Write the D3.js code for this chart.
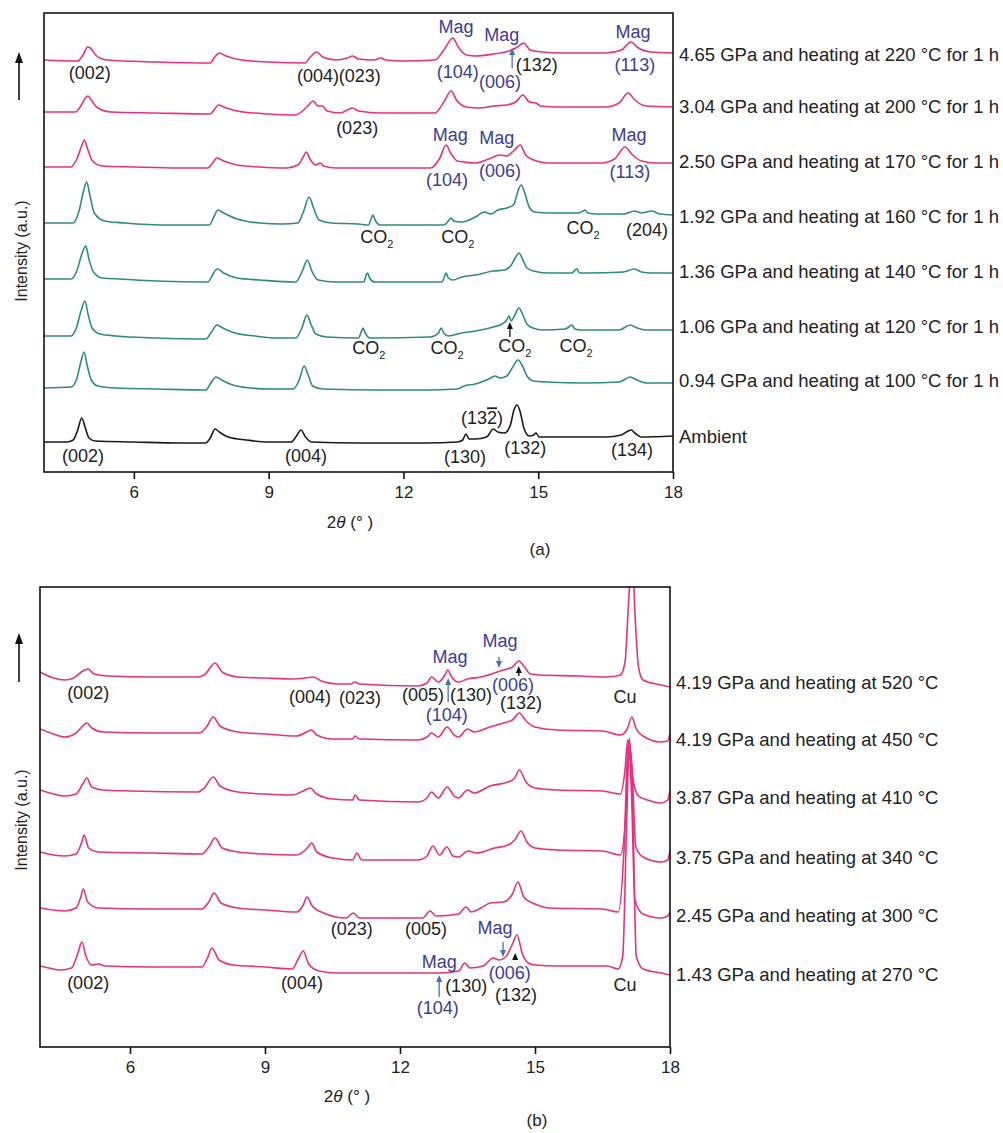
<!DOCTYPE html>
<html>
<head>
<meta charset="utf-8">
<script src="https://cdn.jsdelivr.net/npm/d3@7"></script>
<style>
  html, body { margin: 0; padding: 0; background: #fff; }
  svg text { font-family: "Liberation Sans", Arial, sans-serif; }
</style>
</head>
<body>
<svg id="chart" width="1003" height="1133"></svg>
<script>
// ---------------- DATA ----------------
const xTicks = [6, 9, 12, 15, 18];

// Panel (a): sample labels (top to bottom) and stacking offsets (a.u.)
const labelsA = [
  "4.65 GPa and heating at 220 °C for 1 h",
  "3.04 GPa and heating at 200 °C for 1 h",
  "2.50 GPa and heating at 170 °C for 1 h",
  "1.92 GPa and heating at 160 °C for 1 h",
  "1.36 GPa and heating at 140 °C for 1 h",
  "1.06 GPa and heating at 120 °C for 1 h",
  "0.94 GPa and heating at 100 °C for 1 h",
  "Ambient"
];
const offsetsA = [412, 360, 305, 249, 193, 136, 84, 30];
const labelYA = [417, 365, 310, 255, 200, 145, 91, 35];
const seriesGroupA = ["pink", "pink", "pink", "green", "green", "green", "green", "black"];

const a465 = [[4.0,0],[4.75,-1],[4.88,6],[4.97,13],[5.03,12],[5.15,5],[5.4,0],[6.5,-2],[7.7,-3],[7.8,3],[7.9,7],[8.05,4],[8.4,0],[9.0,-2],[9.8,-3],[9.95,4],[10.07,8],[10.2,3],[10.5,0],[10.75,2],[10.87,4],[11.0,1],[11.35,0],[11.5,2],[11.6,0],[12.0,-1],[12.7,0],[12.9,10],[13.1,22],[13.22,13],[13.4,5],[13.6,4],[14.0,6],[14.35,9],[14.5,12],[14.68,17],[14.82,10],[15.1,8],[15.5,7],[16.5,7],[16.85,10],[17.07,18],[17.2,13],[17.5,8],[18.0,7]];
const a304 = [[4.0,0],[4.7,0],[4.82,6],[4.92,14],[4.98,16],[5.05,12],[5.2,4],[5.5,0],[6.5,-1],[7.7,-2],[7.8,3],[7.88,7],[8.0,5],[8.3,1],[9.0,-2],[9.6,-3],[9.85,5],[9.99,11],[10.1,6],[10.2,6],[10.3,1],[10.6,-1],[10.75,2],[10.87,4],[11.0,1],[11.5,-1],[12.7,-1],[12.9,10],[13.06,21],[13.18,12],[13.4,5],[13.7,4],[14.0,6],[14.3,7],[14.5,10],[14.66,17],[14.8,10],[14.95,9],[15.05,6],[15.4,5],[16.5,5],[16.8,9],[17.0,19],[17.15,12],[17.4,6],[18.0,5]];
const a250 = [[4.0,0],[4.6,0],[4.73,8],[4.83,20],[4.9,27],[4.97,18],[5.08,6],[5.3,1],[6.0,0],[7.0,-1],[7.65,-1],[7.75,4],[7.85,9],[8.0,6],[8.3,2],[8.8,0],[9.4,-1],[9.65,2],[9.77,10],[9.84,15],[9.92,8],[10.05,2],[10.15,4],[10.22,1],[10.5,-1],[11.5,-1],[12.6,-1],[12.8,8],[12.95,22],[13.05,14],[13.2,6],[13.35,5],[13.6,4],[13.9,8],[14.15,12],[14.3,11],[14.45,16],[14.6,22],[14.72,12],[14.9,7],[15.2,4],[16.4,4],[16.7,8],[16.93,20],[17.1,12],[17.3,6],[17.6,4],[18.0,4]];
const a192 = [[4.0,0],[4.65,0],[4.78,12],[4.88,32],[4.95,41],[5.02,28],[5.12,10],[5.35,2],[5.8,0],[6.8,-2],[7.68,-2],[7.78,6],[7.87,13],[8.0,10],[8.3,4],[8.8,0],[9.3,-1],[9.65,0],[9.78,12],[9.9,26],[10.0,15],[10.12,3],[10.4,0],[11.0,-1],[11.22,-2],[11.28,4],[11.32,8],[11.37,3],[11.48,-2],[12.9,-2],[13.0,2],[13.06,5],[13.12,2],[13.3,1],[13.6,6],[13.8,11],[13.95,9],[14.1,13],[14.3,15],[14.45,18],[14.55,32],[14.62,38],[14.7,30],[14.8,16],[14.92,11],[15.2,10],[15.9,10],[16.0,12],[16.04,13],[16.1,10],[16.3,9],[16.9,9],[17.15,12],[17.3,10],[17.53,12],[17.7,9],[18.0,8]];
const a136 = [[4.0,0],[4.6,0],[4.73,8],[4.85,26],[4.93,33],[5.0,20],[5.1,7],[5.3,1],[5.7,0],[6.5,-2],[7.65,-3],[7.75,4],[7.85,10],[8.0,6],[8.3,1],[8.8,-1],[9.6,-3],[9.75,8],[9.86,19],[9.96,8],[10.1,-1],[10.5,-3],[11.12,-3],[11.17,4],[11.2,6],[11.25,1],[11.35,-3],[12.85,-3],[12.92,3],[12.95,6],[13.0,1],[13.1,-1],[13.3,2],[13.6,4],[14.0,8],[14.25,9],[14.4,14],[14.5,22],[14.57,26],[14.65,20],[14.75,11],[14.9,8],[15.2,6],[15.75,6],[15.82,9],[15.86,10],[15.92,6],[16.1,6],[16.9,7],[17.13,10],[17.3,7],[17.5,6],[18.0,6]];
const a106 = [[4.0,0],[4.6,0],[4.72,8],[4.83,26],[4.91,35],[4.98,22],[5.07,8],[5.25,2],[5.6,0],[6.5,-2],[7.6,-3],[7.73,4],[7.85,11],[7.98,8],[8.25,3],[8.7,0],[9.2,-2],[9.6,-2],[9.74,8],[9.85,21],[9.94,12],[10.05,2],[10.3,-1],[11.0,-2],[11.06,4],[11.1,8],[11.15,3],[11.25,-2],[12.6,-1],[12.78,3],[12.84,8],[12.9,3],[13.0,0],[13.3,3],[13.6,5],[14.0,9],[14.2,12],[14.3,16],[14.35,20],[14.4,15],[14.47,20],[14.57,28],[14.65,22],[14.75,12],[14.88,8],[15.1,6],[15.6,7],[15.68,9],[15.75,11],[15.82,7],[15.95,6],[16.8,6],[17.05,11],[17.2,8],[17.4,6],[18.0,6]];
const a094 = [[4.0,0],[4.6,1],[4.72,8],[4.82,26],[4.89,36],[4.96,23],[5.05,8],[5.2,2],[5.6,0],[6.5,-1],[7.6,-2],[7.7,4],[7.83,11],[7.95,8],[8.2,3],[8.6,0],[9.0,-1],[9.55,-1],[9.68,8],[9.79,22],[9.88,13],[9.98,2],[10.2,-1],[11.5,-2],[12.5,-2],[13.2,-1],[13.35,2],[13.6,4],[13.9,9],[14.04,12],[14.15,10],[14.3,12],[14.42,20],[14.55,28],[14.65,22],[14.75,12],[14.9,7],[15.2,6],[16.0,5],[16.8,6],[17.05,11],[17.2,8],[17.4,5],[18.0,5]];
const aAmb = [[4.0,0],[4.5,0],[4.65,2],[4.75,12],[4.84,24],[4.92,14],[5.0,4],[5.15,1],[6.0,0],[7.0,-1],[7.6,-1],[7.7,4],[7.81,13],[7.9,10],[8.1,5],[8.5,2],[9.0,0],[9.5,0],[9.62,6],[9.72,12],[9.82,5],[9.95,0],[11.0,-1],[12.5,-1],[13.2,0],[13.32,2],[13.39,8],[13.46,3],[13.6,3],[13.85,5],[14.0,13],[14.1,10],[14.25,9],[14.38,17],[14.46,32],[14.53,37],[14.6,30],[14.68,14],[14.8,6],[14.9,7],[14.95,9],[15.02,5],[15.5,5],[16.5,5],[16.85,7],[17.0,11],[17.07,12],[17.15,9],[17.3,5],[18.0,6]];
const tracesA = [a465, a304, a250, a192, a136, a106, a094, aAmb];

// Panel (b)
const labelsB = [
  "4.19 GPa and heating at 520 °C",
  "4.19 GPa and heating at 450 °C",
  "3.87 GPa and heating at 410 °C",
  "3.75 GPa and heating at 340 °C",
  "2.45 GPa and heating at 300 °C",
  "1.43 GPa and heating at 270 °C"
];
const offsetsB = [375, 318, 257, 195, 139, 81];
const labelYB = [364, 307, 249, 189, 131, 72];

const b520 = [[4.0,0],[4.3,-6],[4.55,-8],[4.75,-6],[4.95,1],[5.07,3],[5.2,-2],[5.5,-4],[6.5,-5],[7.5,-5],[7.65,-3],[7.89,9],[8.05,0],[8.4,-5],[9.0,-6],[9.6,-7],[9.9,-6],[10.07,-5],[10.25,-9],[10.6,-12],[10.9,-12],[11.0,-10],[11.1,-12],[12.4,-14],[12.6,-11],[12.7,-5],[12.85,-10],[13.0,-3],[13.06,2],[13.15,-5],[13.3,-10],[13.5,-7],[13.8,-5],[14.3,2],[14.5,5],[14.64,11],[14.75,6],[14.9,-2],[15.1,-3],[16.0,-4],[16.6,-5],[16.9,-3],[17.0,10],[17.08,70],[17.16,120],[17.22,60],[17.3,5],[17.4,-8],[17.8,-13],[18.0,-15]];
const b450 = [[4.0,0],[4.3,-5],[4.55,-8],[4.8,-4],[4.95,3],[5.04,6],[5.15,1],[5.4,-3],[6.5,-4],[7.55,-4],[7.7,2],[7.85,12],[8.0,3],[8.4,-3],[9.0,-5],[9.7,-7],[9.93,-3],[10.03,-1],[10.15,-6],[10.5,-10],[10.95,-10],[11.0,-7],[11.1,-10],[12.4,-11],[12.6,-8],[12.7,-4],[12.85,-8],[13.05,2],[13.2,-6],[13.3,-8],[13.5,0],[13.65,-3],[14.0,2],[14.3,6],[14.5,9],[14.65,16],[14.8,8],[15.0,2],[15.5,-1],[16.5,-2],[16.9,-6],[17.05,0],[17.15,12],[17.25,0],[17.4,-7],[17.8,-13],[17.95,-12],[18.0,-4]];
const b410 = [[4.0,0],[4.3,-4],[4.55,-6],[4.8,-4],[4.95,6],[5.04,12],[5.15,3],[5.4,0],[6.0,-1],[7.5,-2],[7.65,2],[7.85,13],[8.0,4],[8.4,-2],[9.0,-4],[9.6,-5],[9.85,-1],[10.0,2],[10.15,-4],[10.5,-9],[10.95,-10],[11.0,-5],[11.1,-10],[12.4,-12],[12.6,-8],[12.7,-2],[12.85,-8],[13.05,3],[13.2,-6],[13.3,-8],[13.5,0],[13.65,-3],[14.0,4],[14.4,8],[14.55,12],[14.65,20],[14.8,8],[15.0,2],[15.5,0],[16.5,-1],[16.9,-4],[17.0,20],[17.06,50],[17.12,40],[17.18,10],[17.3,-6],[17.5,-10],[17.8,-13],[17.95,-10],[18.0,0]];
const b340 = [[4.0,0],[4.3,-3],[4.55,-4],[4.8,-2],[4.93,10],[4.98,17],[5.08,4],[5.3,0],[6.5,-1],[7.6,-2],[7.75,5],[7.89,14],[8.05,4],[8.4,0],[9.0,-2],[9.7,-3],[9.92,3],[10.04,9],[10.15,0],[10.5,-6],[10.95,-8],[11.04,-1],[11.15,-8],[12.4,-8],[12.6,-4],[12.73,6],[12.88,-3],[13.04,5],[13.18,-4],[13.3,-5],[13.51,1],[13.7,-1],[14.1,4],[14.4,7],[14.55,12],[14.69,21],[14.82,10],[15.0,4],[15.5,2],[16.5,1],[16.9,-3],[17.02,40],[17.09,110],[17.16,80],[17.24,5],[17.4,-5],[17.8,-10],[17.95,-8],[18.0,2]];
const b300 = [[4.0,0],[4.3,-2],[4.55,-3],[4.8,0],[4.9,10],[4.96,19],[5.06,6],[5.3,0],[6.5,-1],[7.6,-1],[7.75,6],[7.87,15],[8.02,5],[8.4,0],[9.0,-2],[9.7,-4],[9.85,3],[9.93,11],[10.05,2],[10.3,-5],[10.8,-10],[10.96,-5],[11.1,-10],[12.5,-10],[12.67,-3],[12.8,-8],[13.3,-6],[13.47,1],[13.58,-4],[13.8,0],[14.0,5],[14.3,6],[14.5,14],[14.62,26],[14.75,11],[14.9,6],[15.0,4],[15.3,0],[16.5,-1],[16.85,-4],[16.98,60],[17.07,165],[17.14,120],[17.22,8],[17.4,-6],[17.8,-10],[17.95,-8],[18.0,-4]];
const b270 = [[4.0,0],[4.2,-2],[4.45,-4],[4.7,-2],[4.85,14],[4.93,24],[5.02,10],[5.15,1],[5.3,2],[5.45,0],[6.5,-1],[7.6,-1],[7.72,8],[7.82,18],[7.98,6],[8.3,1],[9.0,-1],[9.6,-3],[9.75,8],[9.85,15],[9.97,2],[10.2,-5],[10.6,-7],[12.9,-7],[13.3,-5],[13.44,3],[13.55,-2],[13.85,0],[14.07,8],[14.2,6],[14.35,9],[14.48,20],[14.6,31],[14.72,12],[14.85,3],[15.0,1],[15.5,0],[16.6,0],[16.85,-3],[16.95,10],[17.04,150],[17.1,228],[17.17,160],[17.25,10],[17.4,-3],[17.8,-7],[18.0,-9]];
const tracesB = [b520, b450, b410, b340, b300, b270];

// Peak annotations: text, 2theta, intensity (a.u.), kind
const annA = [
  ["(002)", 5.02, 399, "k"], ["(004)", 10.1, 396, "k"], ["(023)", 11.03, 396, "k"],
  ["Mag", 13.17, 445, "b"], ["(104)", 13.21, 400, "b"], ["Mag", 14.19, 437, "b"],
  ["(006)", 14.15, 390, "b"], ["(132)", 14.97, 407, "k"], ["Mag", 17.11, 440, "b"], ["(113)", 17.15, 407, "b"],
  ["(023)", 10.97, 344, "k"],
  ["Mag", 13.04, 337, "b"], ["(104)", 12.97, 292, "b"], ["Mag", 14.08, 334, "b"], ["(006)", 14.15, 301, "b"],
  ["Mag", 17.02, 337, "b"], ["(113)", 17.04, 300, "b"],
  ["CO2", 11.41, 235, "k"], ["CO2", 13.21, 235, "k"], ["CO2", 16.0, 244, "k"], ["(204)", 17.42, 242, "k"],
  ["CO2", 11.23, 124, "k"], ["CO2", 12.97, 124, "k"], ["CO2", 14.48, 126, "k"], ["CO2", 15.84, 126, "k"],
  ["(002)", 4.87, 16, "k"], ["(004)", 9.83, 16, "k"], ["(132bar)", 13.75, 54, "k"],
  ["(130)", 13.37, 15, "k"], ["(132)", 14.71, 24, "k"], ["(134)", 17.09, 22, "k"]
];
const arrowsA = [[14.42, 404, 424, "b"], [14.37, 135, 150, "k"]];

const annB = [
  ["(002)", 5.07, 354, "k"], ["(004)", 10.0, 350, "k"], ["(023)", 11.11, 349, "k"], ["(005)", 12.51, 352, "k"],
  ["(130)", 13.58, 352, "k"], ["(104)", 13.04, 332, "b"], ["Mag", 13.11, 390, "b"], ["Mag", 14.22, 406, "b"],
  ["(006)", 14.51, 362, "b"], ["(132)", 14.69, 344, "k"], ["Cu", 17.0, 350, "k"],
  ["(023)", 10.93, 118, "k"], ["(005)", 12.58, 118, "k"],
  ["(002)", 5.07, 64, "k"], ["(004)", 9.82, 64, "k"], ["Mag", 12.87, 85, "b"], ["(104)", 12.84, 39, "b"],
  ["(130)", 13.47, 61, "k"], ["Mag", 14.11, 119, "b"], ["(006)", 14.44, 74, "b"], ["(132)", 14.58, 52, "k"], ["Cu", 17.0, 62, "k"]
];
const arrowsB = [[13.07, 345, 369, "b"], [14.2, 390, 379, "b"], [14.64, 371, 381, "k"],
                 [12.87, 50, 72, "b"], [14.29, 105, 90, "b"], [14.56, 87, 94, "k"]];

// ---------------- DRAWING ----------------
const COLORS = { pink: "#e8307f", green: "#2e8c7c", black: "#1a1a1a" };
const TEXT_COLORS = { k: "#222", b: "#3b3c9c" };
const ARROW_COLORS = { k: "#111", b: "#4a6fb8" };

const svg = d3.select("#chart");
const defs = svg.append("defs");

function drawPanel(cfg) {
  const x = d3.scaleLinear().domain([4, 18]).range([cfg.left, cfg.right]);
  const y = d3.scaleLinear().domain([0, 460]).range([cfg.bottom, cfg.bottom - 460]);
  const g = svg.append("g");
  const clipId = "clip-" + cfg.id;
  defs.append("clipPath").attr("id", clipId).append("rect")
    .attr("x", cfg.left).attr("y", cfg.top).attr("width", cfg.right - cfg.left).attr("height", cfg.bottom - cfg.top);

  const line = d3.line().curve(d3.curveMonotoneX);
  const plot = g.append("g").attr("clip-path", `url(#${clipId})`);
  cfg.traces.forEach((tr, i) => {
    const off = cfg.offsets[i];
    plot.append("path")
      .attr("d", line(tr.map(p => [x(p[0]), y(off + p[1])])))
      .attr("fill", "none")
      .attr("stroke", COLORS[cfg.groups[i]])
      .attr("stroke-width", 1.6)
      .attr("stroke-linejoin", "round");
  });

  // frame
  g.append("rect").attr("x", cfg.left).attr("y", cfg.top)
    .attr("width", cfg.right - cfg.left).attr("height", cfg.bottom - cfg.top)
    .attr("fill", "none").attr("stroke", "#111").attr("stroke-width", 1.6);

  // x axis
  const ax = g.append("g").attr("transform", `translate(0,${cfg.bottom})`)
    .call(d3.axisBottom(x).tickValues(xTicks).tickSize(7).tickPadding(7).tickFormat(d3.format("d")));
  ax.select(".domain").remove();
  ax.selectAll("line").attr("stroke", "#111").attr("stroke-width", 1.6);
  ax.selectAll("text").attr("font-size", 17).attr("fill", "#222")
    .attr("font-family", "Liberation Sans, Arial, sans-serif");

  // x title
  const xt = g.append("text").attr("x", cfg.xTitleX).attr("y", cfg.xTitleY)
    .attr("text-anchor", "middle").attr("font-size", 17).attr("fill", "#222");
  xt.append("tspan").text("2");
  xt.append("tspan").attr("font-style", "italic").text("θ");
  xt.append("tspan").text(" (° )");

  // y title
  g.append("text").attr("transform", `translate(${cfg.yTitleX},${cfg.yTitleY}) rotate(-90)`)
    .attr("text-anchor", "middle").attr("font-size", 16).attr("fill", "#222").text("Intensity (a.u.)");

  // up arrow
  g.append("line").attr("x1", 19).attr("x2", 19).attr("y1", cfg.arrowY0).attr("y2", cfg.arrowY1 + 8)
    .attr("stroke", "#111").attr("stroke-width", 1.6);
  g.append("path").attr("d", `M19,${cfg.arrowY1} L15,${cfg.arrowY1 + 11} L23,${cfg.arrowY1 + 11} Z`).attr("fill", "#111");

  // panel letter
  g.append("text").attr("x", cfg.letterX).attr("y", cfg.letterY).attr("text-anchor", "middle")
    .attr("dy", "0.35em").attr("font-size", 17).attr("fill", "#222").text(cfg.letter);

  // right labels
  cfg.labels.forEach((lab, i) => {
    g.append("text").attr("x", cfg.right + 6).attr("y", y(cfg.labelY[i])).attr("dy", "0.35em")
      .attr("font-size", 18.5).attr("fill", "#222").text(lab);
  });

  // annotations
  cfg.ann.forEach(([t, px, py, kind]) => {
    const te = g.append("text").attr("x", x(px)).attr("y", y(py)).attr("dy", "0.35em")
      .attr("text-anchor", "middle").attr("font-size", 18).attr("fill", TEXT_COLORS[kind]);
    if (t === "CO2") {
      te.append("tspan").text("CO");
      te.append("tspan").attr("font-size", 11).attr("dy", 5).text("2");
    } else if (t === "(132bar)") {
      te.append("tspan").text("(13");
      te.append("tspan").attr("style", "text-decoration: overline").text("2");
      te.append("tspan").text(")");
    } else {
      te.text(t);
    }
  });

  // small arrows
  cfg.arrows.forEach(([px, v0, v1, kind]) => {
    const xx = x(px), y0 = y(v0), y1 = y(v1);
    const dir = y1 < y0 ? 1 : -1; // 1: pointing up
    const col = ARROW_COLORS[kind];
    const head = 7;
    g.append("line").attr("x1", xx).attr("x2", xx).attr("y1", y0).attr("y2", y1 + dir * head * 0.6)
      .attr("stroke", col).attr("stroke-width", 1.3);
    g.append("path").attr("d", `M${xx},${y1} L${xx - 3},${y1 + dir * head} L${xx + 3},${y1 + dir * head} Z`).attr("fill", col);
  });
}

drawPanel({
  id: "a", left: 44, right: 673, top: 13, bottom: 472,
  traces: tracesA, offsets: offsetsA, groups: seriesGroupA, labels: labelsA, labelY: labelYA,
  ann: annA, arrows: arrowsA,
  xTitleX: 350, xTitleY: 528, yTitleX: 27, yTitleY: 251, arrowY0: 100, arrowY1: 52,
  letter: "(a)", letterX: 540, letterY: 549
});

drawPanel({
  id: "b", left: 40, right: 670, top: 587, bottom: 1047,
  traces: tracesB, offsets: offsetsB, groups: ["pink","pink","pink","pink","pink","pink"], labels: labelsB, labelY: labelYB,
  ann: annB, arrows: arrowsB,
  xTitleX: 347, xTitleY: 1102, yTitleX: 27, yTitleY: 820, arrowY0: 682, arrowY1: 633,
  letter: "(b)", letterX: 537, letterY: 1120
});
</script>
</body>
</html>
